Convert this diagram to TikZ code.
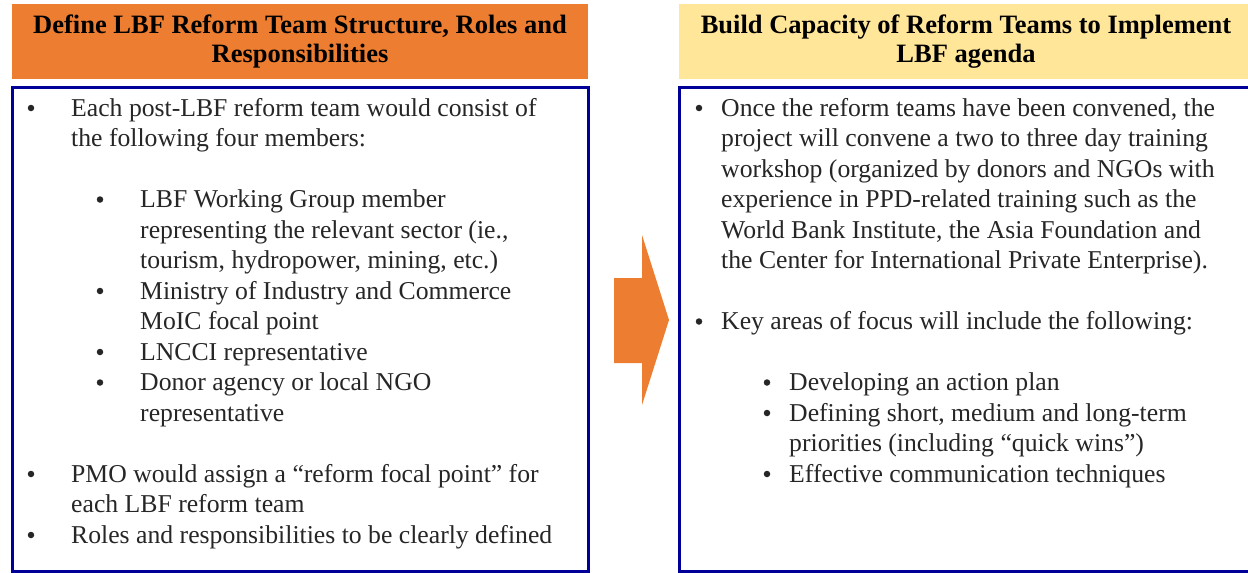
\documentclass[tikz,border=0pt]{standalone}
\usepackage{fontspec}
\setmainfont{Liberation Serif}
\usetikzlibrary{positioning}

\definecolor{hdrorange}{HTML}{ED7D31}
\definecolor{hdryellow}{HTML}{FFE699}
\definecolor{boxblue}{HTML}{000099}
\definecolor{txtgray}{HTML}{262626}

\tikzset{
    hdr/.style={font=\fontsize{26.5}{29}\selectfont\bfseries, align=center, inner sep=0pt, minimum height=75pt},
    panel/.style={draw=boxblue, line width=3pt, inner sep=0pt, minimum height=484pt},
    txt/.style={font=\fontsize{25.7}{30.5}\selectfont, text=txtgray, anchor=base west, inner sep=0pt},
    dot/.style={circle, fill=txtgray, inner sep=0pt, minimum size=6.5pt},
}

\begin{document}
\begin{tikzpicture}[x=1pt, y=-1pt]

    \clip (0,0) rectangle (1248,573);
    \fill[white] (0,0) rectangle (1248,573);

    \node[hdr, fill=hdrorange, minimum width=576pt] (lefthead) at (300,41.5) {Define LBF Reform Team Structure, Roles and\\Responsibilities};
    \node[hdr, fill=hdryellow, minimum width=574pt] (righthead) at (966,41.5) {Build Capacity of Reform Teams to Implement\\LBF agenda};

    \node[panel, minimum width=576pt, below=6.5pt of lefthead] (leftbox) {};
    \node[panel, minimum width=574pt, below=6.5pt of righthead] (rightbox) {};

    \fill[hdrorange] (614,278) -- (642,278) -- (642,235) -- (669,320) -- (642,405) -- (642,363) -- (614,363) -- cycle;

    \foreach \y/\x/\t [count=\i] in {116/71/{Each post-LBF reform team would consist of}, 146.5/71/{the following four members:}, 207.5/140/{LBF Working Group member}, 238/140/{representing the relevant sector (ie.,}, 268.5/140/{tourism, hydropower, mining, etc.)}, 299/140/{Ministry of Industry and Commerce}, 329.5/140/{MoIC focal point}, 360/140/{LNCCI representative}, 390.5/140/{Donor agency or local NGO}, 421/140/{representative}, 482/71/{PMO would assign a “reform focal point” for}, 512.5/71/{each LBF reform team}, 543/71/{Roles and responsibilities to be clearly defined}}
        \node[txt] (left\i) at (\x, \y) {\t};

    \foreach \y/\x/\t [count=\i] in {116/721/{Once the reform teams have been convened, the}, 146.5/721/{project will convene a two to three day training}, 177/721/{workshop (organized by donors and NGOs with}, 207.5/721/{experience in PPD-related training such as the}, 238/721/{World Bank Institute, the Asia Foundation and}, 268.5/721/{the Center for International Private Enterprise).}, 329.5/721/{Key areas of focus will include the following:}, 390.5/789/{Developing an action plan}, 421/789/{Defining short, medium and long-term}, 451.5/789/{priorities (including “quick wins”)}, 482/789/{Effective communication techniques}}
        \node[txt] (right\i) at (\x, \y) {\t};

    \foreach \x/\y [count=\i] in {31/116, 100/207.5, 100/299, 100/360, 100/390.5, 31/482, 31/543, 699/116, 699/329.5, 767/390.5, 767/421, 767/482}
        \node[dot] (dot\i) at (\x, \y-8) {};

\end{tikzpicture}
\end{document}
